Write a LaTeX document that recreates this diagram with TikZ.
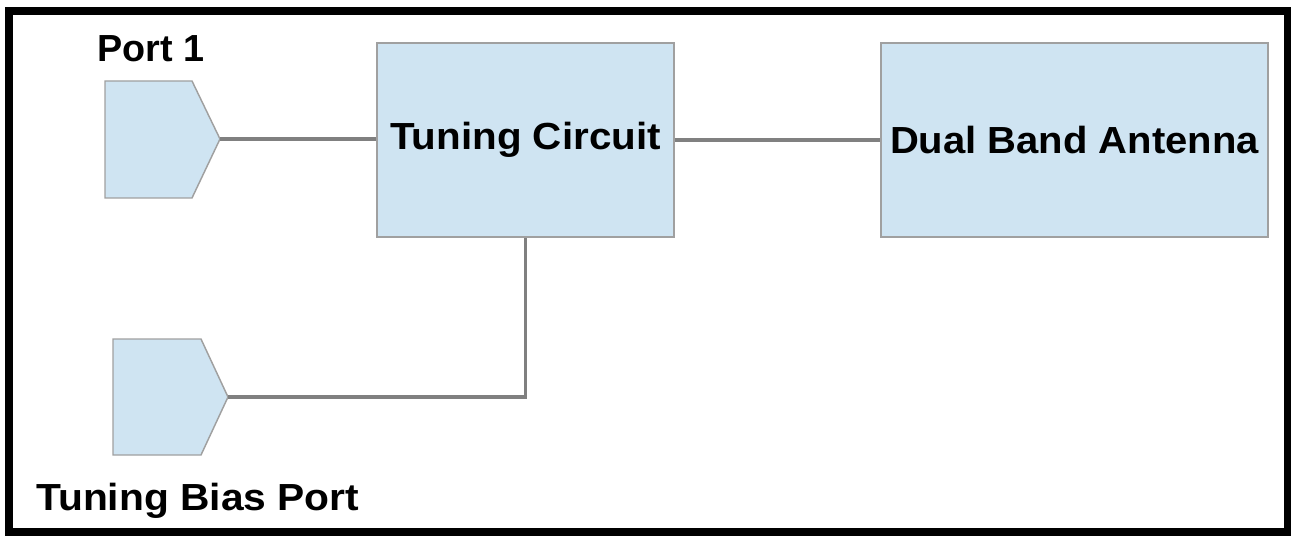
\documentclass[tikz,border=0pt]{standalone}
\usepackage{fontspec}
\setmainfont{Liberation Sans}
\definecolor{boxfill}{RGB}{207,228,242}
\definecolor{boxline}{RGB}{160,160,160}
\definecolor{wiregray}{RGB}{128,128,128}
\tikzset{
  block/.style={draw=boxline, fill=boxfill, line width=1.1pt, inner sep=0pt,
    minimum height=145.5pt},
  portshape/.style={draw=boxline, fill=boxfill, line width=1.1pt, line join=miter},
  wire/.style={draw=wiregray, line width=2.4pt},
  lbl/.style={inner sep=0pt, font=\fontsize{28.3}{30}\selectfont\bfseries},
  frame/.style={draw=black, line width=6pt}
}
\begin{document}
\begin{tikzpicture}[x=0.75pt, y=-0.75pt]
\useasboundingbox (0,0) rectangle (1291,538);

% outer frame
\draw[frame] (9,11) rectangle (1287.5,531.5);

% main blocks
\node[block, minimum width=222.75pt, lbl] (tc) at (525.5,140)
  {\scalebox{1.07}[1]{Tuning Circuit}};
\node[block, minimum width=290.25pt, lbl] (ant) at (1074.5,140)
  {\scalebox{1.06}[1]{Dual Band Antenna}};

% port symbols
\draw[portshape] (105,81) -- (192,81) -- (220,139) -- (192,198) -- (105,198) -- cycle;
\coordinate (p1) at (220,139);
\draw[portshape] (113,339) -- (201,339) -- (228,397) -- (201,455) -- (113,455) -- cycle;
\coordinate (bp) at (228,397);

% port labels
\node[lbl, anchor=base west] (p1lab) at (97,62) {Port 1};
\node[lbl, anchor=base west] (bplab) at (36,510) {\scalebox{1.08}[1]{Tuning Bias Port}};

% connections
\draw[wire] (p1) -- (p1 -| tc.west);
\draw[wire] (tc.east) -- (ant.west);
\draw[wire, line join=miter] (bp) -- (bp -| tc.south) -- (tc.south);
\end{tikzpicture}
\end{document}
